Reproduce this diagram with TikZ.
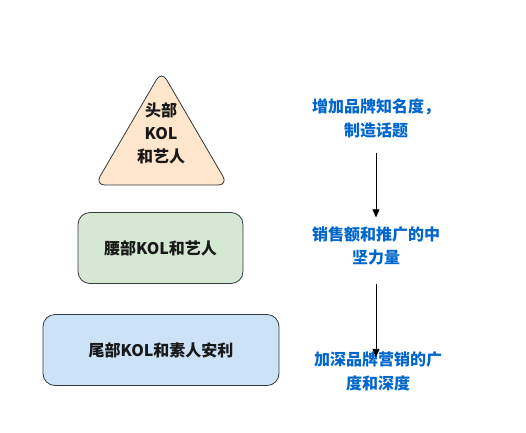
\documentclass[tikz,border=0pt]{standalone}
\usepackage{fontspec}
\newfontfamily\cjk{Noto Sans CJK SC}
\usetikzlibrary{arrows.meta}
\definecolor{peach}{HTML}{FFE6CC}
\definecolor{mint}{HTML}{D5E8D4}
\definecolor{sky}{HTML}{CCE2F7}
\definecolor{edge}{HTML}{36393D}
\definecolor{goalblue}{HTML}{0066CC}
\begin{document}
\begin{tikzpicture}[x=1pt,y=-1pt,
    lvl/.style={draw=edge,line width=0.8pt,rounded corners=12pt,minimum height=71pt,
      text=black!90,font=\cjk\bfseries\fontsize{16}{23}\selectfont},
    goal/.style={text=goalblue,align=center,inner sep=0pt,
      font=\cjk\bfseries\fontsize{16}{23.5}\selectfont},
    flow/.style={-{Triangle[width=7pt,length=8pt]},line width=0.7pt}]
  \fill[white] (0,0) rectangle (526,432);
  \useasboundingbox (0,0) rectangle (526,432);
  % pyramid levels
  \filldraw[fill=peach,draw=edge,line width=0.8pt,rounded corners=10pt]
    (161.5,71) -- (228,185) -- (95,185) -- cycle;
  \node[align=center,inner sep=0pt,text=black!90,font=\cjk\bfseries\fontsize{16}{23}\selectfont]
    (head) at (161,133) {头部\\KOL\\和艺人};
  \node[lvl,fill=mint,minimum width=165pt] (waist) at (160.5,248) {腰部KOL和艺人};
  \node[lvl,fill=sky,minimum width=236pt] (tail) at (161,350) {尾部KOL和素人安利};
  % goals
  \node[goal] (g1) at (376,118.5) {增加品牌知名度，\\制造话题};
  \node[goal] (g2) at (376,246) {销售额和推广的中\\坚力量};
  \node[goal] (g3) at (378,371.5) {加深品牌营销的广\\度和深度};
  \draw[flow,shorten <=15pt,shorten >=9pt] (g1) -- (g2);
  \draw[flow,shorten <=18pt,shorten >=-5pt] (g2.south -| g1) -- (g3.north -| g1);
\end{tikzpicture}
\end{document}
